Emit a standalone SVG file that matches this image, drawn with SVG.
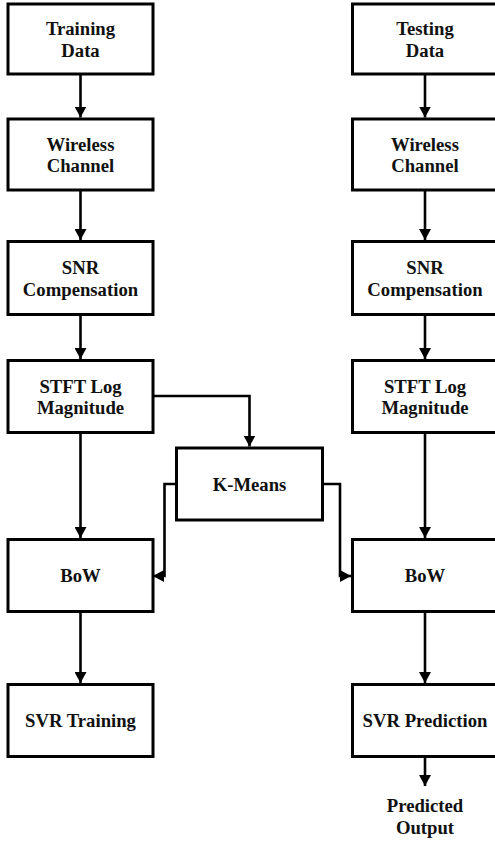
<svg xmlns="http://www.w3.org/2000/svg" width="495" height="842" viewBox="0 0 495 842">
<style>
.box{fill:#fff;stroke:#000;stroke-width:3}
.t{font-family:"Liberation Serif","Times New Roman",serif;font-weight:bold;font-size:18.7px;fill:#111;text-anchor:middle}
.c{fill:none;stroke:#000;stroke-width:2.6;marker-end:url(#ah)}
</style>
<defs>
<marker id="ah" viewBox="0 0 11 12" refX="11" refY="6" markerWidth="11" markerHeight="12" markerUnits="userSpaceOnUse" orient="auto">
<path d="M0,0 L11,6 L0,12 z" fill="#000"/>
</marker>
</defs>
<rect width="495" height="842" fill="#fff"/>
<g id="connectors">
<path class="c" d="M80.5,74 V117.5"/>
<path class="c" d="M80.5,190 V240"/>
<path class="c" d="M80.5,314.5 V359"/>
<path class="c" d="M80.5,432.5 V538"/>
<path class="c" d="M80.5,611.5 V683"/>
<path class="c" d="M425,74 V117.5"/>
<path class="c" d="M425,190 V240"/>
<path class="c" d="M425,314.5 V359"/>
<path class="c" d="M425,432.5 V538"/>
<path class="c" d="M425,611.5 V683"/>
<path class="c" d="M425,756.5 V786"/>
<path class="c" d="M153,396 H249.5 V446.5"/>
<path class="c" d="M176.5,484 H164.5 V576 H153"/>
<path class="c" d="M322.5,484 H340 V576 H351"/>
</g>
<g id="training-data"><rect class="box" x="8" y="4" width="145" height="70"/><text class="t" x="80.5" y="35">Training</text><text class="t" x="80.5" y="56.5">Data</text></g>
<g id="wireless-channel-1"><rect class="box" x="8" y="119" width="145" height="71"/><text class="t" x="80.5" y="150.5">Wireless</text><text class="t" x="80.5" y="172">Channel</text></g>
<g id="snr-1"><rect class="box" x="8" y="241.5" width="145" height="73"/><text class="t" x="80.5" y="274">SNR</text><text class="t" x="80.5" y="295.5">Compensation</text></g>
<g id="stft-1"><rect class="box" x="8" y="360.5" width="145" height="72"/><text class="t" x="80.5" y="392.5">STFT Log</text><text class="t" x="80.5" y="414">Magnitude</text></g>
<g id="bow-1"><rect class="box" x="8" y="539.5" width="145" height="72"/><text class="t" x="80.5" y="581.5">BoW</text></g>
<g id="svr-training"><rect class="box" x="8" y="684.5" width="145" height="72"/><text class="t" x="80.5" y="726.5">SVR Training</text></g>
<g id="testing-data"><rect class="box" x="352.5" y="4" width="145" height="70"/><text class="t" x="425" y="35">Testing</text><text class="t" x="425" y="56.5">Data</text></g>
<g id="wireless-channel-2"><rect class="box" x="352.5" y="119" width="145" height="71"/><text class="t" x="425" y="150.5">Wireless</text><text class="t" x="425" y="172">Channel</text></g>
<g id="snr-2"><rect class="box" x="352.5" y="241.5" width="145" height="73"/><text class="t" x="425" y="274">SNR</text><text class="t" x="425" y="295.5">Compensation</text></g>
<g id="stft-2"><rect class="box" x="352.5" y="360.5" width="145" height="72"/><text class="t" x="425" y="392.5">STFT Log</text><text class="t" x="425" y="414">Magnitude</text></g>
<g id="bow-2"><rect class="box" x="352.5" y="539.5" width="145" height="72"/><text class="t" x="425" y="581.5">BoW</text></g>
<g id="svr-prediction"><rect class="box" x="352.5" y="684.5" width="145" height="72"/><text class="t" x="425" y="726.5">SVR Prediction</text></g>
<g id="k-means"><rect class="box" x="176.5" y="448" width="146" height="72"/><text class="t" x="249.5" y="490.5">K-Means</text></g>
<g id="predicted-output"><text class="t" x="425" y="811.5">Predicted</text><text class="t" x="425" y="834">Output</text></g>
</svg>
